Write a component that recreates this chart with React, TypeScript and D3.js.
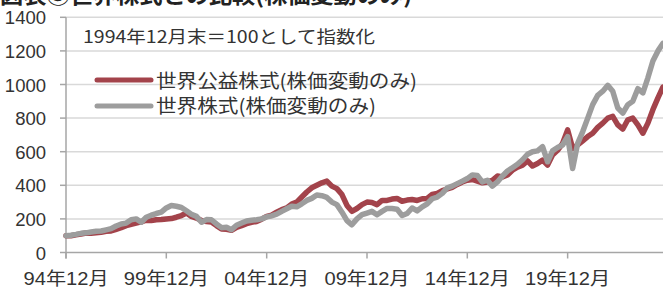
import React from "react";
import * as d3 from "d3";

// quarter-end points, Dec 1994 .. Sep 2024 (1994/12 = 100)
const quarters = d3.timeMonth.range(new Date(1994, 11, 1), new Date(2024, 9, 1), 3);

// 世界株式(株価変動のみ)
const worldValues = [
  100,
  103, 108, 114, 117, // 1995
  122, 126, 128, 135, // 1996
  142, 158, 170, 175, // 1997
  195, 200, 180, 210, // 1998
  222, 232, 240, 265, // 1999
  280, 275, 268, 248, // 2000
  228, 215, 180, 196, // 2001
  195, 170, 148, 150, // 2002
  136, 162, 175, 188, // 2003
  192, 195, 200, 212, // 2004
  218, 228, 245, 260, // 2005
  275, 272, 290, 310, // 2006
  322, 342, 338, 328, // 2007
  300, 285, 240, 190, // 2008
  165, 200, 225, 235, // 2009
  245, 225, 245, 262, // 2010
  262, 258, 220, 232, // 2011
  265, 248, 272, 290, // 2012
  320, 330, 352, 385, // 2013
  395, 410, 425, 440, // 2014
  462, 458, 420, 430, // 2015
  395, 420, 455, 485, // 2016
  505, 525, 552, 585, // 2017
  600, 605, 630, 540, // 2018
  605, 625, 640, 690, // 2019
  500, 650, 720, 800, // 2020
  880, 935, 960, 995, // 2021
  960, 860, 830, 880, // 2022
  900, 975, 950, 1040, // 2023
  1140, 1200, 1245, // 2024
];

// 世界公益株式(株価変動のみ)
const utilityValues = [
  100,
  100, 106, 110, 116, // 1995
  115, 118, 120, 126, // 1996
  128, 138, 148, 160, // 1997
  168, 175, 182, 192, // 1998
  190, 195, 196, 200, // 1999
  202, 210, 220, 235, // 2000
  215, 205, 190, 185, // 2001
  182, 160, 140, 138, // 2002
  132, 150, 160, 172, // 2003
  180, 185, 198, 215, // 2004
  222, 240, 255, 265, // 2005
  288, 300, 330, 360, // 2006
  385, 400, 415, 425, // 2007
  395, 380, 345, 280, // 2008
  245, 262, 285, 300, // 2009
  298, 285, 310, 310, // 2010
  318, 322, 305, 312, // 2011
  315, 310, 320, 322, // 2012
  345, 352, 368, 378, // 2013
  388, 405, 420, 430, // 2014
  435, 425, 415, 420, // 2015
  430, 455, 450, 462, // 2016
  490, 508, 520, 545, // 2017
  515, 530, 550, 520, // 2018
  580, 608, 650, 730, // 2019
  620, 640, 665, 690, // 2020
  710, 745, 770, 800, // 2021
  810, 760, 735, 790, // 2022
  800, 760, 710, 770, // 2023
  850, 920, 985, // 2024
];

const yTicks = [0, 200, 400, 600, 800, 1000, 1200, 1400];
const xTickDates = [1994, 1999, 2004, 2009, 2014, 2019].map((y) => new Date(y, 11, 1));
const xTickLabels = ["94年12月", "99年12月", "04年12月", "09年12月", "14年12月", "19年12月"];

const RED = "#a3434b";
const GREY = "#9d9d9d";
const TEXT = "#333333";
const LATIN = "'Liberation Sans', Arial, 'Noto Sans CJK JP', sans-serif";
const CJK = "'Noto Sans CJK JP', 'Liberation Sans', sans-serif";

export default function App() {
  const width = 663;
  const height = 289;
  const left = 66;
  const right = 663;
  const top = 17.3;
  const bottom = 252.5;

  const x = d3
    .scaleTime()
    .domain([quarters[0], quarters[quarters.length - 1]])
    .range([left, right]);
  const y = d3.scaleLinear().domain([0, 1400]).range([bottom, top]);

  const line = d3
    .line<number>()
    .x((_, i) => x(quarters[i]))
    .y((d) => y(d));

  return (
    <svg
      width={width}
      height={height}
      style={{ position: "absolute", left: 0, top: 0, background: "#fff" }}
    >
      {/* title, cut off at the top like in the source */}
      <text
        x={0}
        y={2.5}
        fontFamily={CJK}
        fontSize={22}
        fontWeight="bold"
        fill="#222"
        textLength={412}
        lengthAdjust="spacingAndGlyphs"
      >
        図表③世界株式との比較(株価変動のみ)
      </text>

      {/* gridlines */}
      {yTicks.slice(1).map((t) => (
        <line key={t} x1={left} x2={width} y1={y(t)} y2={y(t)} stroke="#d9d9d9" strokeWidth={1.5} />
      ))}

      {/* y axis */}
      <line x1={left} x2={left} y1={top} y2={bottom + 6} stroke="#a6a6a6" strokeWidth={1.5} />
      {yTicks.map((t) => (
        <g key={t}>
          <line x1={left - 6} x2={left} y1={y(t)} y2={y(t)} stroke="#a6a6a6" strokeWidth={1.5} />
          <text x={46} y={y(t) + 7} textAnchor="end" fontFamily={LATIN} fontSize={18.5} fill={TEXT}>
            {t}
          </text>
        </g>
      ))}

      {/* x axis */}
      <line x1={left} x2={width} y1={bottom} y2={bottom} stroke="#a6a6a6" strokeWidth={1.5} />
      {xTickDates.map((d, i) => (
        <g key={i}>
          <line x1={x(d)} x2={x(d)} y1={bottom} y2={bottom + 6} stroke="#a6a6a6" strokeWidth={1.5} />
          <text
            x={x(d)}
            y={285}
            textAnchor="middle"
            fontFamily={LATIN}
            fontSize={18}
            fill={TEXT}
            textLength={85}
            lengthAdjust="spacingAndGlyphs"
          >
            {xTickLabels[i]}
          </text>
        </g>
      ))}

      {/* series */}
      <path
        d={line(utilityValues) ?? ""}
        fill="none"
        stroke={RED}
        strokeWidth={5.5}
        strokeLinejoin="round"
        strokeLinecap="round"
      />
      <path
        d={line(worldValues) ?? ""}
        fill="none"
        stroke={GREY}
        strokeWidth={5.5}
        strokeLinejoin="round"
        strokeLinecap="round"
      />

      {/* note */}
      <text
        x={83}
        y={43}
        fontFamily={CJK}
        fontSize={17}
        fill={TEXT}
        textLength={292}
        lengthAdjust="spacingAndGlyphs"
      >
        1994年12月末＝100として指数化
      </text>

      {/* legend */}
      <line x1={97} x2={151} y1={80} y2={80} stroke={RED} strokeWidth={5} strokeLinecap="round" />
      <text
        x={156}
        y={88}
        fontFamily={CJK}
        fontSize={19}
        fill={TEXT}
        textLength={261}
        lengthAdjust="spacingAndGlyphs"
      >
        世界公益株式(株価変動のみ)
      </text>
      <line x1={97} x2={151} y1={106} y2={106} stroke={GREY} strokeWidth={5} strokeLinecap="round" />
      <text
        x={156}
        y={113}
        fontFamily={CJK}
        fontSize={19}
        fill={TEXT}
        textLength={220}
        lengthAdjust="spacingAndGlyphs"
      >
        世界株式(株価変動のみ)
      </text>
    </svg>
  );
}
